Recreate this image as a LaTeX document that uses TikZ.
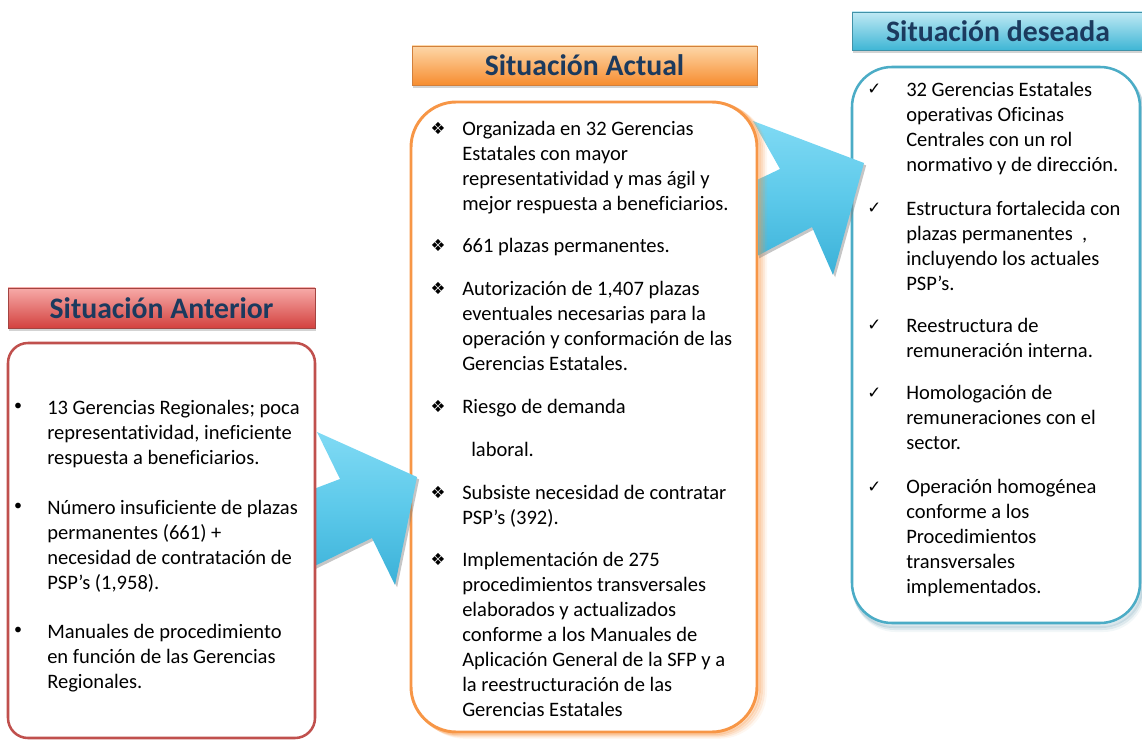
\documentclass[tikz,border=0pt]{standalone}
\usepackage{fontspec}
\setmainfont{Carlito}[Ligatures=NoCommon]
\newfontfamily\dejavu{DejaVu Sans}
\usetikzlibrary{shadows}
\definecolor{redline}{HTML}{C0504D}
\definecolor{orangeline}{HTML}{F79646}
\definecolor{blueline}{HTML}{4BACC6}
\definecolor{redtop}{HTML}{F7AAA8}
\definecolor{redbot}{HTML}{D3423F}
\definecolor{orgtop}{HTML}{FDD7A8}
\definecolor{orgbot}{HTML}{F78D30}
\definecolor{blutop}{HTML}{BFE9F4}
\definecolor{blubot}{HTML}{3FB6D5}
\definecolor{titletext}{HTML}{1B3A5E}
\definecolor{arrtop}{HTML}{80DAF4}
\definecolor{arrmid}{HTML}{5CC9EA}
\definecolor{arrbot}{HTML}{3BB1D8}
\definecolor{blushadow}{HTML}{5C93AA}
\begin{document}
\begin{tikzpicture}[x=0.75pt,y=-0.75pt,
  txt/.style={anchor=north west, inner sep=0pt, align=left, text=black,
    font=\fontsize{15.4pt}{18.75pt}\selectfont},
  dotbul/.style={anchor=center, inner sep=0pt, font=\fontsize{12pt}{14pt}\selectfont},
  diabul/.style={anchor=center, inner sep=0pt, font=\dejavu\fontsize{12.5pt}{14pt}\selectfont},
  chkbul/.style={anchor=base west, inner sep=0pt, font=\dejavu\fontsize{12.5pt}{14pt}\selectfont},
  titlebox/.style n args={3}{top color=#1, bottom color=#2, draw=#3, line width=0.6pt,
    inner sep=0pt, text=titletext, font=\bfseries\fontsize{22.3pt}{26pt}\selectfont,
    drop shadow={shadow xshift=0.6pt, shadow yshift=-2.4pt, opacity=0.35}},
  bigbox/.style={fill=white, line width=#1},
  arrowshape/.style={top color=arrtop, bottom color=arrbot, middle color=arrmid, draw=none,
    drop shadow={shadow xshift=1.6pt, shadow yshift=-1.8pt, opacity=0.45}},
  orgglow/.style={orangeline, line width=3pt, rounded corners=34pt}
]
\useasboundingbox (0,0) rectangle (1142,741);

% ---- Situacion deseada box (back) ----
\foreach \d/\o in {7/0.08,5/0.14,3/0.22}{
  \draw[blushadow, line width=3pt, opacity=\o, rounded corners=30pt]
    (852+\d*0.5,67+\d) rectangle (1140+\d*0.5,623+\d);
}
\draw[bigbox=1.9pt, draw=blueline, rounded corners=30pt] (852,67) rectangle (1140,623);

% ---- Situacion actual box ----
\foreach \d/\o in {8/0.08,6/0.14,4/0.22,2/0.3}{
  \draw[orgglow, opacity=\o] (411+\d,102+\d*0.6) rectangle (757+\d,732+\d*0.6);
}
\draw[bigbox=2.2pt, draw=orangeline, rounded corners=34pt] (411,102) rectangle (757,732);

% ---- arrow 2 ----
\path[arrowshape] (757,180) -- (780,169) -- (753,121) -- (864,163) -- (833,275) -- (812,227) -- (757,256) -- cycle;
\begin{scope}
  \clip (757,180) -- (780,169) -- (753,121) -- (864,163) -- (833,275) -- (812,227) -- (757,256) -- cycle;
  \foreach \d/\o in {8/0.08,6/0.14,4/0.22,2/0.3}{
    \draw[orgglow, opacity=\o] (411+\d,102+\d*0.6) rectangle (757+\d,732+\d*0.6);
  }
\end{scope}
\draw[orangeline, line width=2.2pt] (757,176) -- (757,262);

% ---- arrow 1 ----
\path[arrowshape] (290,498) -- (340,479) -- (317,432) -- (417,477) -- (395,585) -- (372,538) -- (290,578) -- cycle;

% ---- Situacion anterior box ----
\draw[bigbox=1.9pt, draw=redline, rounded corners=15pt] (8,343) rectangle (315,738);

% ---- titles ----
\node[titlebox={redtop}{redbot}{redline!85!black}, minimum width=230.25pt, minimum height=30pt]
  (tAnt) at (161.5,308) {Situación Anterior};
\node[titlebox={orgtop}{orgbot}{orangeline!85!black}, minimum width=258.75pt, minimum height=29.25pt]
  (tAct) at (584.5,65.5) {Situación Actual};
\node[titlebox={blutop}{blubot}{blueline!85!black}, minimum width=219pt, minimum height=28.5pt]
  (tDes) at (998,31) {Situación deseada};

% ---- texts: anterior ----
\node[dotbul] (a1b) at (18,407) {•};
\node[txt] (a1) at (47,396.5) {\strut 13 Gerencias Regionales; poca\\representatividad, ineficiente\\respuesta a beneficiarios.};
\node[dotbul] (a2b) at (18,507) {•};
\node[txt] (a2) at (47,496.5) {\strut Número insuficiente de plazas\\permanentes (661) +\\necesidad de contratación de\\PSP’s (1,958).};
\node[dotbul] (a3b) at (18,631) {•};
\node[txt] (a3) at (47,620.5) {\strut Manuales de procedimiento\\en función de las Gerencias\\Regionales.};

% ---- texts: actual ----
\node[diabul] (b1b) at (438,128) {❖};
\node[txt] (b1) at (462,117.5) {\strut Organizada en 32 Gerencias\\Estatales con mayor\\representatividad y mas ágil y\\mejor respuesta a beneficiarios.};
\node[diabul] (b2b) at (438,245) {❖};
\node[txt] (b2) at (462,234.5) {\strut 661 plazas permanentes.};
\node[diabul] (b3b) at (438,288) {❖};
\node[txt] (b3) at (462,277.5) {\strut Autorización de 1,407 plazas\\eventuales necesarias para la\\operación y conformación de las\\Gerencias Estatales.};
\node[diabul] (b4b) at (438,406) {❖};
\node[txt] (b4) at (462,395.5) {\strut Riesgo de demanda};
\node[txt] (b4x) at (471,438.5) {\strut laboral.};
\node[diabul] (b5b) at (438,492) {❖};
\node[txt] (b5) at (462,481.5) {\strut Subsiste necesidad de contratar\\PSP’s (392).};
\node[diabul] (b6b) at (438,559) {❖};
\node[txt] (b6) at (462,548.5) {\strut Implementación de 275\\procedimientos transversales\\elaborados y actualizados\\conforme a los Manuales de\\Aplicación General de la SFP y a\\la reestructuración de las\\Gerencias Estatales};

% ---- texts: deseada ----
\node[chkbul] (c1b) at (867,95) {✓};
\node[txt] (c1) at (906,78.5) {\strut 32 Gerencias Estatales\\operativas Oficinas\\Centrales con un rol\\normativo y de dirección.};
\node[chkbul] (c2b) at (867,214) {✓};
\node[txt] (c2) at (906,197.5) {\strut Estructura fortalecida con\\plazas permanentes~~,\\incluyendo los actuales\\PSP’s.};
\node[chkbul] (c3b) at (867,331) {✓};
\node[txt] (c3) at (906,314.5) {\strut Reestructura de\\remuneración interna.};
\node[chkbul] (c4b) at (867,398) {✓};
\node[txt] (c4) at (906,381.5) {\strut Homologación de\\remuneraciones con el\\sector.};
\node[chkbul] (c5b) at (867,492) {✓};
\node[txt] (c5) at (906,475.5) {\strut Operación homogénea\\conforme a los\\Procedimientos\\transversales\\implementados.};
\end{tikzpicture}
\end{document}
